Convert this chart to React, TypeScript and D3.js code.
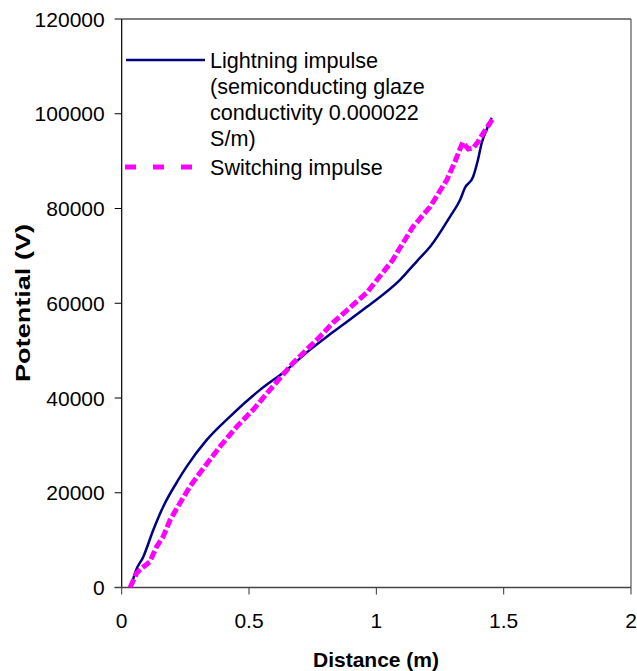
import React from "react";
import * as d3 from "d3";

const xTicks = [0, 0.5, 1, 1.5, 2];
const yTicks = [0, 20000, 40000, 60000, 80000, 100000, 120000];

const lightningX = [0.037, 0.052, 0.085, 0.124, 0.163, 0.222, 0.255, 0.334, 0.425, 0.543, 0.648, 0.739, 0.831, 0.963, 1.093, 1.164, 1.211, 1.289, 1.329, 1.348, 1.38, 1.399, 1.414, 1.433, 1.453];
const lightningY = [0, 3060, 6500, 12140, 17060, 22700, 25510, 31150, 36070, 41710, 45930, 50160, 53960, 59240, 64940, 69170, 71910, 78250, 81840, 84370, 86690, 90280, 93870, 96620, 99150];

const switchingX = [0.033, 0.059, 0.079, 0.111, 0.137, 0.163, 0.19, 0.229, 0.268, 0.307, 0.386, 0.452, 0.516, 0.582, 0.673, 0.779, 0.83, 0.963, 1.065, 1.081, 1.144, 1.211, 1.277, 1.309, 1.328, 1.339, 1.361, 1.38, 1.4, 1.42, 1.446, 1.458];
const switchingY = [0, 3060, 4120, 5450, 8620, 10730, 14260, 17850, 21290, 24180, 29740, 33960, 37500, 41710, 47400, 52970, 55920, 62260, 69170, 70650, 76140, 80360, 86060, 89930, 92500, 93940, 92550, 92760, 94150, 95930, 98040, 98940];

const legendLightning = ["Lightning impulse", "(semiconducting glaze", "conductivity 0.000022", "S/m)"];
const legendSwitching = "Switching impulse";

export default function App() {
  const W = 637, H = 671;
  const left = 121.7, right = 631, top = 19, bottom = 587.5;
  const x = d3.scaleLinear().domain([0, 2]).range([left, right]);
  const y = d3.scaleLinear().domain([0, 120000]).range([bottom, top]);
  const font = "'Liberation Sans', Arial, sans-serif";

  const lPts: [number, number][] = lightningX.map((v, i) => [v, lightningY[i]]);
  const sPts: [number, number][] = switchingX.map((v, i) => [v, switchingY[i]]);
  const lineL = d3.line<[number, number]>().x(d => x(d[0])).y(d => y(d[1])).curve(d3.curveMonotoneX);
  const lineS = d3.line<[number, number]>().x(d => x(d[0])).y(d => y(d[1]));

  return (
    <svg width={W} height={H} style={{ position: "absolute", left: 0, top: 0, background: "#fff" }} fontFamily={font}>
      <rect x={0} y={0} width={W} height={H} fill="#fff" />
      {/* frame */}
      <line x1={left} x2={right} y1={top} y2={top} stroke="#000" strokeWidth={1} />
      <line x1={right} x2={right} y1={top} y2={bottom} stroke="#555" strokeWidth={1.2} />
      {/* y ticks */}
      {yTicks.map(t => (
        <g key={"y" + t}>
          <line x1={left - 7} x2={left} y1={y(t)} y2={y(t)} stroke="#000" strokeWidth={1} />
          <text x={left - 17} y={y(t)} dy="0.36em" textAnchor="end" fontSize={21}>{t}</text>
        </g>
      ))}
      {/* x ticks */}
      {xTicks.map(t => (
        <g key={"x" + t}>
          <line x1={x(t)} x2={x(t)} y1={bottom} y2={bottom + 7} stroke="#333" strokeWidth={1} />
          <text x={x(t)} y={628} textAnchor="middle" fontSize={21}>{t}</text>
        </g>
      ))}
      <line x1={left} x2={left} y1={top} y2={bottom} stroke="#000" strokeWidth={1.2} />
      <line x1={left - 7} x2={right} y1={bottom} y2={bottom} stroke="#444" strokeWidth={1.6} />
      {/* series */}
      <path d={lineL(lPts) || ""} fill="none" stroke="#000080" strokeWidth={2.5} />
      <path d={lineS(sPts) || ""} fill="none" stroke="#FF00FF" strokeWidth={5} strokeDasharray="9,3" />
      {/* legend */}
      <line x1={126} x2={205} y1={60} y2={60} stroke="#000080" strokeWidth={2.5} />
      {legendLightning.map((s, i) => (
        <text key={s} x={210} y={68 + i * 26} fontSize={21.6}>{s}</text>
      ))}
      <line x1={125} x2={205} y1={167} y2={167} stroke="#FF00FF" strokeWidth={5} strokeDasharray="11,17" />
      <text x={210} y={175} fontSize={21.6}>{legendSwitching}</text>
      {/* titles */}
      <text x={376} y={667} textAnchor="middle" fontSize={21} fontWeight="bold">Distance (m)</text>
      <text transform={`translate(30,303) rotate(-90)`} textAnchor="middle" fontSize={20.5} fontWeight="bold" textLength={158} lengthAdjust="spacingAndGlyphs">Potential (V)</text>
    </svg>
  );
}
